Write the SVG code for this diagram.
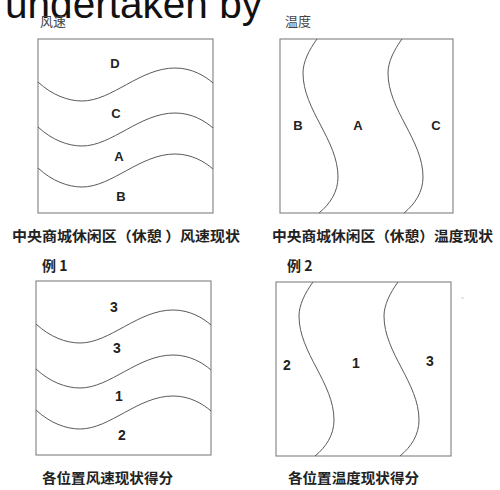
<svg xmlns="http://www.w3.org/2000/svg" xmlns:xlink="http://www.w3.org/1999/xlink" width="500" height="490" viewBox="0 0 500 490">
<style>
.box{fill:none;stroke:#8a8a8a;stroke-width:1.2}
.cv{fill:none;stroke:#5a5a5a;stroke-width:1}
.lbl{font-family:"Liberation Sans",Arial,sans-serif;font-weight:bold;fill:#222;text-anchor:middle;dominant-baseline:central}
.cap{font-family:"Noto Sans CJK SC","Noto Sans",sans-serif;font-weight:bold;fill:#222;font-size:14px}
.hd{font-family:"Noto Sans CJK SC","Noto Sans",sans-serif;fill:#444;font-size:13px}
</style>
<defs>
<path id="wave" d="M38,82 C52,95 68,101 82,101 C112,101 140,68 175,68 C192,68 205,76 213,83"/>
<path id="snake" d="M317,39 C309,50 303,62 303,73 C303,110 338,140 338,177 C338,192 330,204 319,213"/>
</defs>
<rect width="500" height="490" fill="#fff"/>
<text x="5" y="18" font-family="Liberation Sans,Arial,sans-serif" font-size="40" fill="#111" textLength="257" lengthAdjust="spacingAndGlyphs">undertaken by</text>
<g id="panel1">
<text class="hd" x="40" y="26" fill="#555">风速</text>
<rect class="box" x="38" y="39" width="175" height="174"/>
<text class="lbl" x="115" y="63" font-size="13">D</text>
<text class="lbl" x="116" y="113" font-size="13">C</text>
<text class="lbl" x="119" y="156" font-size="13">A</text>
<text class="lbl" x="121" y="196" font-size="13">B</text>
<text class="cap" x="12" y="241" textLength="228" lengthAdjust="spacingAndGlyphs">中央商城休闲区（休憩 ）风速现状</text>
<text class="cap" x="42" y="271" font-size="12">例 1</text>
</g>
<g id="panel2">
<text class="hd" x="285" y="26">温度</text>
<rect class="box" x="280" y="39" width="173" height="174"/>
<text class="lbl" x="298" y="125" font-size="13">B</text>
<text class="lbl" x="358" y="125" font-size="13">A</text>
<text class="lbl" x="436" y="125" font-size="13">C</text>
<text class="cap" x="272" y="241" textLength="221" lengthAdjust="spacingAndGlyphs">中央商城休闲区（休憩）温度现状</text>
<text class="cap" x="287" y="271" font-size="12">例 2</text>
</g>
<g id="panel3">
<rect class="box" x="36" y="281" width="175" height="174"/>
<text class="lbl" x="114" y="307" font-size="14">3</text>
<text class="lbl" x="117" y="348" font-size="14">3</text>
<text class="lbl" x="119" y="396" font-size="14">1</text>
<text class="lbl" x="122" y="435" font-size="14">2</text>
<text class="cap" x="42" y="483" textLength="131" lengthAdjust="spacingAndGlyphs">各位置风速现状得分</text>
</g>
<g id="panel4">
<rect class="box" x="276" y="282" width="175" height="174"/>
<text class="lbl" x="287" y="365" font-size="14">2</text>
<text class="lbl" x="356" y="363" font-size="14">1</text>
<text class="lbl" x="430" y="361" font-size="14">3</text>
<text class="cap" x="288" y="483" textLength="131" lengthAdjust="spacingAndGlyphs">各位置温度现状得分</text>
<line x1="461" y1="298" x2="464" y2="298" stroke="#ccc" stroke-width="1"/>
</g>
<g id="connectors">
<use xlink:href="#wave" class="cv"/>
<use xlink:href="#wave" class="cv" transform="translate(0,45)"/>
<use xlink:href="#wave" class="cv" transform="translate(0,86)"/>
<use xlink:href="#snake" class="cv"/>
<use xlink:href="#snake" class="cv" transform="translate(85,0)"/>
<use xlink:href="#wave" class="cv" transform="translate(-2,242)"/>
<use xlink:href="#wave" class="cv" transform="translate(-2,287)"/>
<use xlink:href="#wave" class="cv" transform="translate(-2,328)"/>
<use xlink:href="#snake" class="cv" transform="translate(-4,243)"/>
<use xlink:href="#snake" class="cv" transform="translate(81,243)"/>
</g>
</svg>
